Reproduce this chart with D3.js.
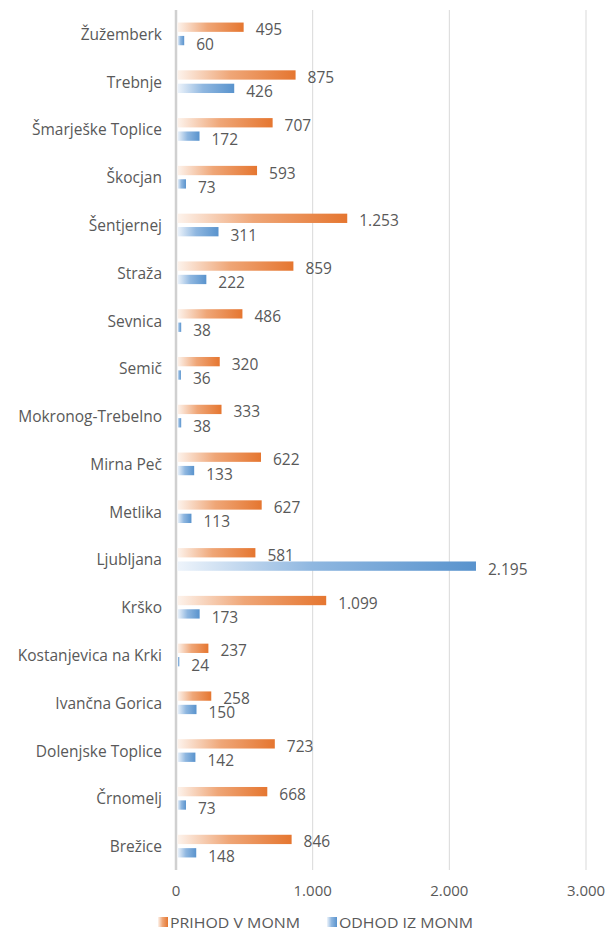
<!DOCTYPE html>
<html>
<head>
<meta charset="utf-8">
<script src="https://cdn.jsdelivr.net/npm/d3@7"></script>
<style>
  body { margin: 0; background: #fff; }
  text { font-family: "Open Sans", "Noto Sans", sans-serif; fill: #595959; }
</style>
</head>
<body>
<svg id="chart" width="614" height="933"></svg>
<script>
// Data (top to bottom as drawn)
const categories = ["Žužemberk", "Trebnje", "Šmarješke Toplice", "Škocjan", "Šentjernej", "Straža",
  "Sevnica", "Semič", "Mokronog-Trebelno", "Mirna Peč", "Metlika", "Ljubljana", "Krško",
  "Kostanjevica na Krki", "Ivančna Gorica", "Dolenjske Toplice", "Črnomelj", "Brežice"];
const prihod = [495, 875, 707, 593, 1253, 859, 486, 320, 333, 622, 627, 581, 1099, 237, 258, 723, 668, 846];
const odhod = [60, 426, 172, 73, 311, 222, 38, 36, 38, 133, 113, 2195, 173, 24, 150, 142, 73, 148];
const xTicks = [0, 1000, 2000, 3000];
const seriesNames = ["PRIHOD V MONM", "ODHOD IZ MONM"];

const width = 614, height = 933;
const margin = { top: 10, right: 28, bottom: 63, left: 176 };

const locale = d3.formatLocale({ decimal: ",", thousands: ".", grouping: [3], currency: ["", "€"] });
const fmt = locale.format(",d");

const svg = d3.select("#chart");

// Gradients
const defs = svg.append("defs");
const gradOrange = defs.append("linearGradient").attr("id", "gOrange");
gradOrange.append("stop").attr("offset", "0%").attr("stop-color", "#fdf3ec");
gradOrange.append("stop").attr("offset", "45%").attr("stop-color", "#efa677");
gradOrange.append("stop").attr("offset", "100%").attr("stop-color", "#e57630");
const gradBlue = defs.append("linearGradient").attr("id", "gBlue");
gradBlue.append("stop").attr("offset", "0%").attr("stop-color", "#eef4fb");
gradBlue.append("stop").attr("offset", "45%").attr("stop-color", "#8fb7e0");
gradBlue.append("stop").attr("offset", "100%").attr("stop-color", "#5993cd");

const x = d3.scaleLinear().domain([0, 3000]).range([margin.left, width - margin.right]);
const y = d3.scaleBand().domain(categories).range([margin.top, height - margin.bottom]).paddingInner(0).paddingOuter(0);
const band = y.bandwidth();
const barH = band * 0.195;
const gap = band * 0.085;

// Gridlines
svg.append("g")
  .selectAll("line")
  .data(xTicks.slice(1))
  .join("line")
  .attr("x1", d => x(d)).attr("x2", d => x(d))
  .attr("y1", margin.top).attr("y2", height - margin.bottom)
  .attr("stroke", "#d9d9d9").attr("stroke-width", 1);

// Axis at zero
svg.append("line")
  .attr("x1", x(0)).attr("x2", x(0))
  .attr("y1", margin.top).attr("y2", height - margin.bottom)
  .attr("stroke", "#d0d0d0").attr("stroke-width", 2.5);

// Tick labels
svg.append("g")
  .selectAll("text")
  .data(xTicks)
  .join("text")
  .attr("x", d => x(d))
  .attr("y", height - margin.bottom + 20)
  .attr("text-anchor", "middle")
  .attr("dominant-baseline", "central")
  .attr("font-size", 15)
  .text(d => fmt(d));

// Category labels
svg.append("g")
  .selectAll("text")
  .data(categories)
  .join("text")
  .attr("x", x(0) - 14)
  .attr("y", d => y(d) + band / 2)
  .attr("text-anchor", "end")
  .attr("dominant-baseline", "central")
  .attr("font-size", 15.5)
  .text(d => d);

const rows = categories.map((c, i) => ({ c, p: prihod[i], o: odhod[i] }));

// Orange bars
svg.append("g")
  .selectAll("rect")
  .data(rows)
  .join("rect")
  .attr("x", x(0) + 1.5)
  .attr("y", d => y(d.c) + band / 2 - gap / 2 - barH)
  .attr("width", d => x(d.p) - x(0) - 1.5)
  .attr("height", barH)
  .attr("fill", "url(#gOrange)");

// Blue bars
svg.append("g")
  .selectAll("rect")
  .data(rows)
  .join("rect")
  .attr("x", x(0) + 1.5)
  .attr("y", d => y(d.c) + band / 2 + gap / 2)
  .attr("width", d => x(d.o) - x(0) - 1.5)
  .attr("height", barH)
  .attr("fill", "url(#gBlue)");

// Value labels
svg.append("g")
  .selectAll("text")
  .data(rows)
  .join("text")
  .attr("x", d => x(d.p) + 12)
  .attr("y", d => y(d.c) + band / 2 - gap / 2 - barH / 2 + 2)
  .attr("dominant-baseline", "central")
  .attr("font-size", 15.5)
  .text(d => fmt(d.p));

svg.append("g")
  .selectAll("text")
  .data(rows)
  .join("text")
  .attr("x", d => x(d.o) + 12)
  .attr("y", d => y(d.c) + band / 2 + gap / 2 + barH / 2 + 3)
  .attr("dominant-baseline", "central")
  .attr("font-size", 15.5)
  .text(d => fmt(d.o));

// Legend
const legendY = 922;
const legend = svg.append("g");
const legendItems = [
  { name: seriesNames[0], fill: "url(#gOrange)", x: 158 },
  { name: seriesNames[1], fill: "url(#gBlue)", x: 327 }
];
legendItems.forEach(it => {
  legend.append("rect")
    .attr("x", it.x).attr("y", legendY - 5)
    .attr("width", 10).attr("height", 10)
    .attr("fill", it.fill);
  legend.append("text")
    .attr("x", it.x + 12).attr("y", legendY)
    .attr("dominant-baseline", "central")
    .attr("font-size", 15)
    .attr("textLength", it === legendItems[0] ? 130 : 134)
    .attr("lengthAdjust", "spacingAndGlyphs")
    .text(it.name);
});
</script>
</body>
</html>
